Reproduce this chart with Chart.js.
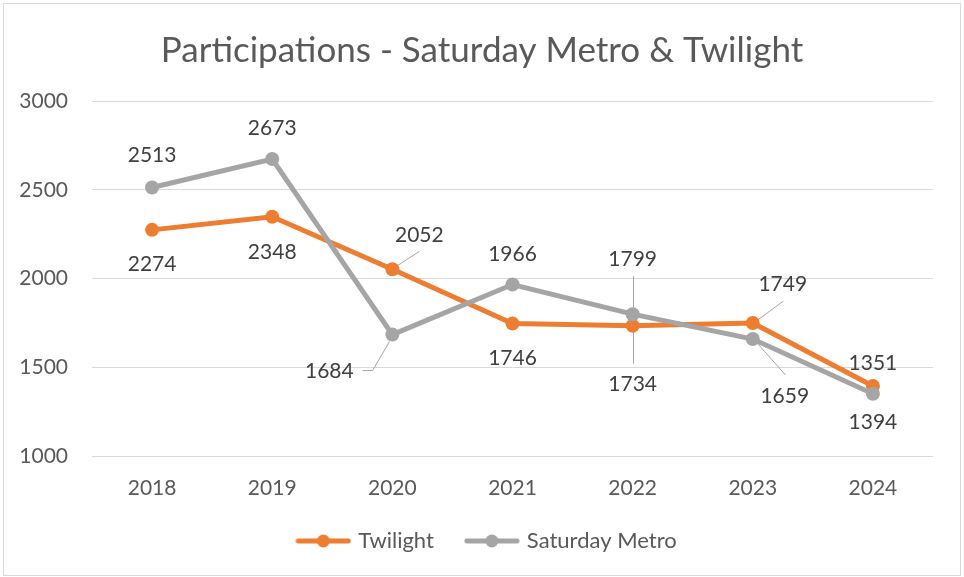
<!DOCTYPE html>
<html><head><meta charset="utf-8">
<script src="https://cdn.jsdelivr.net/npm/chart.js@4/dist/chart.umd.min.js"></script>
<style>html,body{margin:0;padding:0;background:#fff}#wrap{width:964px;height:577px;position:relative}</style>
</head><body><div id="wrap"><canvas id="c" width="964" height="577"></canvas></div>
<script>
const years = ['2018', '2019', '2020', '2021', '2022', '2023', '2024'];
const twilight = [2274, 2348, 2052, 1746, 1734, 1749, 1394];
const saturdayMetro = [2513, 2673, 1684, 1966, 1799, 1659, 1351];
const yTicks = [1000, 1500, 2000, 2500, 3000];
const seriesNames = ['Twilight', 'Saturday Metro'];
const titleText = 'Participations - Saturday Metro & Twilight';

const ORANGE = '#ED7D31', GRAY = '#A5A5A5';
const FONT = 'Lato';

// label placement (offset of label centre from its point) and leader lines, per dataset
const labelPlacement = [
  { // Twilight
    off: [[0,34],[0,35],[27,-35],[0,34],[0,58],[30,-40],[0,35]],
    leaders: {2: [[1,-1],[27,-18]], 4: [[0,0],[0,38]], 5: [[0,0],[30,-22]]}
  },
  { // Saturday Metro
    off: [[0,-33],[0,-32],[-63,36],[0,-31],[0,-56],[32,56],[0,-31]],
    leaders: {2: [[-3,7],[-20,36],[-30,36]], 4: [[0,0],[0,-38]], 5: [[0,0],[32,36]]}
  }
];

function legendIcon(color){
  const c = document.createElement('canvas'); c.width = 56; c.height = 16;
  const x = c.getContext('2d');
  x.strokeStyle = color; x.lineWidth = 5; x.lineCap = 'round';
  x.beginPath(); x.moveTo(3,8); x.lineTo(53,8); x.stroke();
  x.fillStyle = color; x.beginPath(); x.arc(28,8,6.5,0,Math.PI*2); x.fill();
  return c;
}
const icons = [legendIcon(ORANGE), legendIcon(GRAY)];
const colors = [ORANGE, GRAY];

const frame = {
  id: 'frame',
  beforeDraw(chart){
    const ctx = chart.ctx; ctx.save();
    ctx.fillStyle = '#fff'; ctx.fillRect(0,0,chart.width,chart.height);
    ctx.strokeStyle = '#D9D9D9'; ctx.lineWidth = 1;
    ctx.strokeRect(3.5, 3.5, chart.width - 7, chart.height - 5);
    ctx.restore();
  },
  afterLayout(chart){
    if (chart.legend) { chart.legend.left += 6; chart.legend.right += 6; }
  }
};

const dataLabels = {
  id: 'dataLabels',
  beforeDatasetsDraw(chart){
    const ctx = chart.ctx; ctx.save();
    ctx.strokeStyle = '#A6A6A6'; ctx.lineWidth = 1;
    chart.data.datasets.forEach((ds, di) => {
      const meta = chart.getDatasetMeta(di);
      const pl = labelPlacement[di];
      meta.data.forEach((pt, i) => {
        const ld = pl.leaders[i];
        if (!ld) return;
        ctx.beginPath();
        ld.forEach((p, k) => { const X = Math.round(pt.x + p[0]) + 0.5, Y = pt.y + p[1]; k ? ctx.lineTo(X, Y) : ctx.moveTo(X, Y); });
        ctx.stroke();
      });
    });
    ctx.restore();
  },
  afterDatasetsDraw(chart){
    const ctx = chart.ctx; ctx.save();
    ctx.font = '21px ' + FONT; ctx.fillStyle = '#404040';
    ctx.textAlign = 'center'; ctx.textBaseline = 'alphabetic';
    chart.data.datasets.forEach((ds, di) => {
      const meta = chart.getDatasetMeta(di);
      const pl = labelPlacement[di];
      meta.data.forEach((pt, i) => {
        const o = pl.off[i];
        ctx.fillText(String(ds.data[i]), pt.x + o[0], pt.y + o[1] + 7.5);
      });
    });
    ctx.restore();
  }
};

new Chart(document.getElementById('c'), {
  type: 'line',
  data: {
    labels: years,
    datasets: [
      { label: seriesNames[0], data: twilight, borderColor: ORANGE, backgroundColor: ORANGE,
        borderWidth: 5, pointRadius: 7, pointBorderWidth: 0, pointBackgroundColor: ORANGE, order: 1, tension: 0 },
      { label: seriesNames[1], data: saturdayMetro, borderColor: GRAY, backgroundColor: GRAY,
        borderWidth: 5, pointRadius: 7, pointBorderWidth: 0, pointBackgroundColor: GRAY, order: 0, tension: 0 }
    ]
  },
  options: {
    responsive: false, animation: false, devicePixelRatio: 1,
    layout: { padding: { left: 0, right: 0, top: 6, bottom: 15 } },
    plugins: {
      tooltip: { enabled: false },
      title: { display: true, text: titleText, color: '#595959',
        font: { family: FONT, size: 35, weight: 'normal' }, padding: { top: 24, bottom: 29 } },
      legend: { display: true, position: 'bottom',
        labels: { usePointStyle: true, pointStyleWidth: 48, boxHeight: 20, padding: 34,
          color: '#595959', font: { family: FONT, size: 22 },
          generateLabels: chart => [0,1].map(i => ({ text: chart.data.datasets[i].label, pointStyle: icons[i],
            fillStyle: colors[i], strokeStyle: colors[i], lineWidth: 0, hidden: false, datasetIndex: i, fontColor: '#595959' })) } }
    },
    scales: {
      x: { type: 'category', offset: true,
        grid: { display: false }, border: { display: false },
        ticks: { color: '#595959', font: { family: FONT, size: 21 }, padding: 12 },
        afterFit: s => { s.height = 40; } },
      y: { min: 1000, max: 3000,
        afterBuildTicks: s => { s.ticks = yTicks.map(v => ({ value: v })); },
        grid: { color: '#D9D9D9', lineWidth: 1, drawTicks: false }, border: { display: false },
        ticks: { color: '#595959', font: { family: FONT, size: 21 }, padding: 24, callback: v => String(v) },
        afterFit: s => { s.width = 92; } },
      yRight: { position: 'right', display: true,
        grid: { display: false, drawTicks: false }, border: { display: false }, ticks: { display: false },
        afterFit: s => { s.width = 31; } }
    }
  },
  plugins: [frame, dataLabels]
});
</script></body></html>
